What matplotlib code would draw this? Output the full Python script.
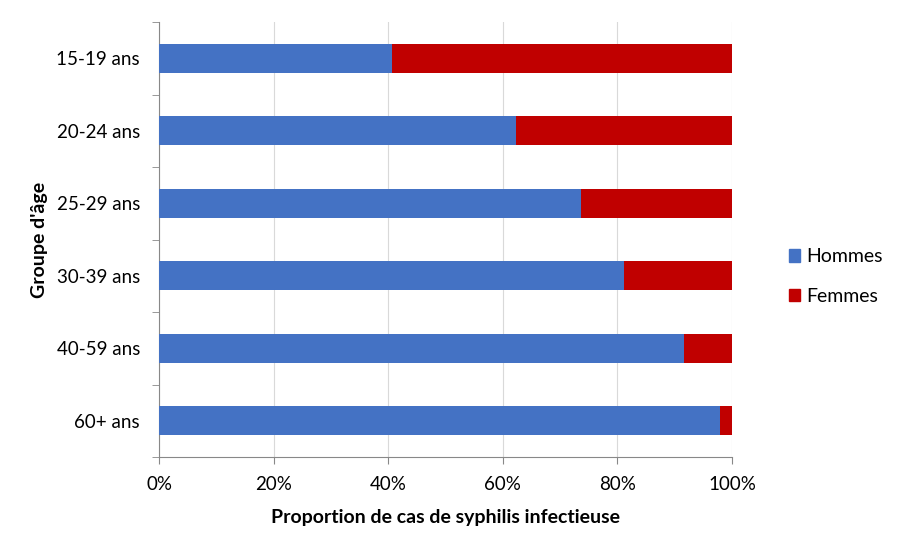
import matplotlib.pyplot as plt
from matplotlib.patches import Patch
from matplotlib.ticker import PercentFormatter, FixedLocator

# Données (proportion des cas, en %)
groupes = ['15-19 ans', '20-24 ans', '25-29 ans', '30-39 ans', '40-59 ans', '60+ ans']
hommes = [40.7, 62.3, 73.6, 81.2, 91.6, 97.9]
femmes = [100 - h for h in hommes]

couleur_h = '#4472C4'
couleur_f = '#C00000'

plt.rcParams['font.family'] = ['Lato', 'DejaVu Sans']

fig = plt.figure(figsize=(9.02, 5.53), dpi=100)
ax = fig.add_axes([0.1763, 0.1736, 0.6353, 0.7866])

y = list(range(len(groupes)))[::-1]
ax.barh(y, hommes, height=0.4, color=couleur_h, zorder=3)
ax.barh(y, femmes, left=hommes, height=0.4, color=couleur_f, zorder=3)

ax.set_xlim(0, 100)
ax.set_ylim(-0.5, len(groupes) - 0.5)
ax.set_xticks(range(0, 101, 20))
ax.xaxis.set_major_formatter(PercentFormatter(decimals=0))
ax.set_yticks(y)
ax.set_yticklabels(groupes)
ax.yaxis.set_minor_locator(FixedLocator([i - 0.5 for i in range(len(groupes) + 1)]))
ax.tick_params(axis='y', which='major', length=0, pad=13.7, labelsize=13.5)
ax.tick_params(axis='y', which='minor', length=5, color='#888888')
ax.tick_params(axis='x', length=5, color='#888888', labelsize=13.5, pad=9)

ax.grid(axis='x', color='#D9D9D9', linewidth=0.8, zorder=0)
for s in ['top', 'right']:
    ax.spines[s].set_visible(False)
for s in ['left', 'bottom']:
    ax.spines[s].set_color('#888888')

ax.set_xlabel('Proportion de cas de syphilis infectieuse', fontsize=14, fontweight='bold', labelpad=11)
ax.set_ylabel("Groupe d'âge", fontsize=14, fontweight='bold', labelpad=6)

handles = [Patch(color=couleur_h, label='Hommes'), Patch(color=couleur_f, label='Femmes')]
fig.legend(handles=handles, loc='center left', bbox_to_anchor=(0.855, 0.5), frameon=False,
           fontsize=14, handlelength=0.6, handleheight=0.6, labelspacing=1.15, handletextpad=0.3)

fig.savefig('out.png', dpi=100)
